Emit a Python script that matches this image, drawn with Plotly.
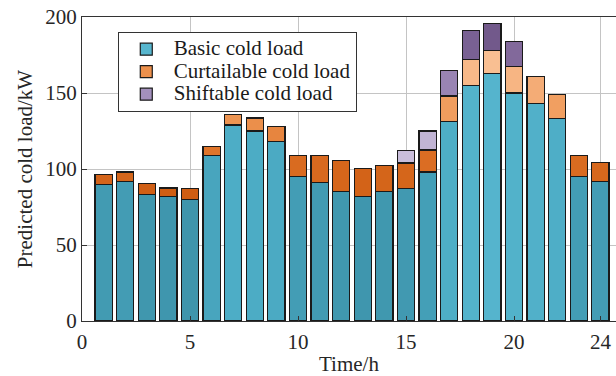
import plotly.graph_objects as go

hours = list(range(1, 25))
basic = [90, 92, 83, 82, 80, 109, 129, 125, 118, 95, 91, 85, 82, 85, 87, 98,
         131, 155, 163, 150, 143, 133, 95, 92]
curtailable = [6.5, 6, 7.5, 5.5, 7, 6, 7, 8.5, 10, 14, 18, 20.5, 18.5, 17.5, 17,
               14.5, 17, 17, 15, 17.5, 18, 16, 14, 12.5]
shiftable = [0, 0, 0, 0, 0, 0, 0, 0, 0, 0, 0, 0, 0, 0, 8, 12.5, 17, 19, 17.5,
             16.5, 0, 0, 0, 0]
series_names = ["Basic cold load", "Curtailable cold load", "Shiftable cold load"]
x_ticks = [0, 5, 10, 15, 20, 24]
y_ticks = [0, 50, 100, 150, 200]

FONT = "Liberation Serif, Times New Roman, serif"

# colour scales mapped on absolute load value (kW), emulating vertical gradients
basic_cs = [[0.0, "#2c6e80"], [0.2, "#3b8ea5"], [0.35, "#4babc4"],
            [0.5, "#57b6ce"], [0.75, "#7cc5d6"], [1.0, "#9dd4e1"]]
curt_cs = [[0.0, "#cc5a10"], [0.3, "#de7126"], [0.55, "#ef9856"],
           [0.8, "#f7b685"], [1.0, "#fac89e"]]
shift_cs = [[0.0, "#cfc5e0"], [0.25, "#bdafd1"], [0.5, "#a390bd"],
            [0.75, "#8870a2"], [1.0, "#664d7f"]]

basic_mid = [b / 2 for b in basic]
curt_mid = [b + c / 2 for b, c in zip(basic, curtailable)]
shift_mid = [b + c + s / 2 for b, c, s in zip(basic, curtailable, shiftable)]

line = dict(color="#1a1a1a", width=1.2)


def legend_label(text):
    return '<span style="font-size:21px">' + text + "</span>"


fig = go.Figure()
fig.add_trace(go.Bar(
    x=hours, y=basic, name=legend_label(series_names[0]),
    marker=dict(color=basic_mid, colorscale=basic_cs, cmin=0, cmax=170, line=line),
))
fig.add_trace(go.Bar(
    x=hours, y=curtailable, name=legend_label(series_names[1]),
    marker=dict(color=curt_mid, colorscale=curt_cs, cmin=80, cmax=180, line=line),
))
fig.add_trace(go.Bar(
    x=hours, y=shiftable, name=legend_label(series_names[2]),
    marker=dict(color=shift_mid, colorscale=shift_cs, cmin=100, cmax=195, line=line),
))

fig.update_layout(
    width=616, height=376,
    barmode="stack", bargap=0.2,
    margin=dict(l=82, r=0, t=17, b=55, autoexpand=False),
    paper_bgcolor="white", plot_bgcolor="white",
    font=dict(family=FONT, size=21, color="#262626"),
    showlegend=True,
    legend=dict(
        x=0.067, y=0.951, xanchor="left", yanchor="top",
        bgcolor="white", bordercolor="#333333", borderwidth=1,
        font=dict(family=FONT, size=15, color="#1a1a1a"),
        traceorder="normal", tracegroupgap=0, itemwidth=45,
    ),
)
fig.update_xaxes(
    range=[0, 24.72], tickvals=x_ticks, ticktext=[str(v) for v in x_ticks],
    showgrid=True, gridcolor="#c4c4c4", gridwidth=1,
    showline=True, linecolor="#333333", linewidth=1.2, mirror=True,
    ticks="inside", ticklen=5, tickcolor="#333333",
    ticklabeloverflow="allow", ticklabelstandoff=2, automargin=False,
    zeroline=False,
    title=dict(text="Time/h", font=dict(family=FONT, size=21), standoff=4),
)
fig.update_yaxes(
    range=[0, 200], tickvals=y_ticks,
    showgrid=True, gridcolor="#c4c4c4", gridwidth=1,
    showline=True, linecolor="#333333", linewidth=1.2, mirror=True,
    ticks="inside", ticklen=5, tickcolor="#333333", automargin=False,
    zeroline=False,
    title=dict(text="Predicted cold load/kW", font=dict(family=FONT, size=21), standoff=6),
)

fig.write_html(
    "out.html",
    config={"displayModeBar": False},
    post_script="document.body.style.margin='0';document.body.style.overflow='hidden';",
)
